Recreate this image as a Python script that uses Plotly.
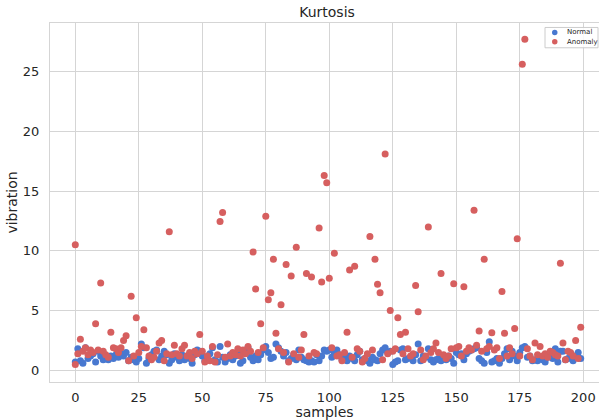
import plotly.graph_objects as go

normal = [
    0.7, 1.8, 0.8, 0.6, 1.9, 1.0, 1.2, 1.4, 0.7, 1.6,
    1.2, 0.9, 1.1, 0.9, 1.2, 1.0, 1.3, 1.1, 1.4, 1.2,
    1.5, 0.8, 1.1, 0.9, 0.7, 1.0, 2.2, 1.9, 0.6, 1.0,
    1.3, 1.6, 1.7, 0.9, 1.2, 1.6, 1.3, 0.6, 0.9, 1.4,
    1.1, 0.8, 1.3, 0.9, 1.2, 1.0, 0.6, 1.3, 1.7, 1.6,
    1.2, 0.8, 1.0, 1.4, 1.9, 0.9, 0.7, 2.0, 1.1, 0.7,
    1.0, 1.3, 0.9, 1.2, 1.4, 0.6, 0.8, 1.5, 1.9, 1.1,
    0.8, 1.2, 0.9, 1.3, 1.7, 2.0, 1.5, 1.0, 1.1, 2.2,
    1.9, 1.6, 1.2, 1.5, 0.8, 1.0, 1.3, 0.9, 1.7, 1.1,
    0.9, 0.8, 0.7, 0.8, 0.7, 1.3, 0.8, 1.2, 1.7, 1.6,
    1.7, 1.1, 1.5, 1.7, 1.3, 0.9, 1.1, 0.8, 1.2, 1.0,
    0.8, 1.3, 1.6, 0.9, 1.0, 0.8, 0.6, 1.1, 0.9, 0.8,
    1.4, 1.7, 1.9, 1.5, 1.6, 0.5, 0.7, 0.8, 1.7, 1.8,
    0.9, 1.0, 1.1, 0.8, 1.3, 2.2, 0.8, 1.2, 1.1, 1.8,
    0.9, 0.7, 0.9, 1.0, 0.8, 1.1, 0.9, 1.2, 1.0, 0.6,
    1.5, 1.3, 1.4, 0.9, 1.4, 1.6, 1.7, 1.8, 1.9, 1.0,
    0.8, 0.6, 1.5, 2.4, 0.7, 0.8, 1.0, 0.6, 1.0, 1.4,
    1.8, 0.9, 1.6, 1.2, 0.8, 1.5, 1.9, 2.0, 1.1, 1.2,
    0.8, 0.9, 0.8, 1.0, 0.9, 0.7, 1.1, 1.4, 1.0, 1.8,
    0.7, 1.6, 1.6, 0.9, 1.0, 1.4, 0.8, 1.2, 1.5, 1.0,
]

anomaly = [
    10.5, 1.4, 2.6, 1.6, 1.9, 1.3, 1.7, 1.5, 3.9, 1.7,
    7.3, 1.6, 1.3, 1.1, 3.2, 1.9, 1.8, 1.5, 1.9, 2.5,
    2.9, 0.8, 6.2, 1.2, 4.4, 1.5, 2.0, 3.4, 1.9, 1.2,
    0.9, 1.1, 1.6, 2.3, 2.5, 0.8, 1.4, 11.6, 1.3, 2.1,
    1.4, 1.2, 1.8, 2.1, 1.2, 1.5, 1.0, 1.6, 1.4, 3.0,
    1.6, 0.7, 1.2, 0.8, 2.0, 0.7, 1.3, 12.45, 13.2, 1.1,
    2.2, 1.2, 1.5, 1.3, 1.8, 1.2, 1.7, 1.4, 2.0, 1.6,
    9.9, 6.8, 1.5, 3.9, 1.9, 12.9, 5.9, 6.5, 9.3, 3.1,
    1.8, 5.5, 1.5, 8.85, 0.7, 7.9, 1.4, 10.3, 1.1, 1.7,
    3.0, 8.1, 1.2, 7.8, 1.5, 1.4, 11.9, 7.4, 16.3, 15.7,
    7.7, 1.9, 9.8, 1.2, 1.3, 0.8, 1.5, 3.2, 8.4, 1.1,
    8.7, 1.8, 1.6, 0.7, 1.0, 1.4, 11.2, 1.7, 9.3, 7.2,
    6.5, 0.9, 18.1, 1.4, 5.0, 1.6, 1.8, 4.4, 3.0, 1.4,
    3.2, 1.8, 1.2, 1.4, 7.1, 4.9, 1.7, 0.9, 1.2, 12.0,
    1.5, 1.8, 2.3, 1.5, 8.1, 1.3, 1.0, 1.2, 1.8, 7.25,
    1.9, 2.0, 1.2, 7.0, 1.6, 1.9, 1.7, 13.4, 2.1, 3.3,
    1.6, 9.3, 1.8, 2.0, 3.15, 1.7, 1.9, 1.0, 6.6, 3.1,
    1.2, 1.9, 1.4, 3.5, 11.0, 1.2, 25.6, 27.7, 1.8, 1.2,
    0.9, 2.3, 1.3, 2.0, 1.2, 1.4, 1.1, 1.6, 1.5, 1.3,
    1.2, 8.96, 2.3, 0.9, 1.6, 1.5, 1.2, 2.5, 1.0, 3.6,
]

anomaly_extra_samples = [0]
anomaly_extra_values = [0.5]

samples = list(range(len(normal)))
x_ticks = [0, 25, 50, 75, 100, 125, 150, 175, 200]
y_ticks = [0, 5, 10, 15, 20, 25]
legend_labels = ["Normal", "Anomaly"]

BLUE = "#4878d0"
RED = "#d65f5f"
GRID = "#d5d5d5"
TEXT = "#262626"
FONT = "DejaVu Sans"

W, H = 599, 420
L, R, T, B = 50, 0, 23, 35
PW, PH = W - L - R, H - T - B


def px_x(px):
    return (px - L) / PW


def px_y(py):
    return (H - B - py) / PH


fig = go.Figure()
fig.add_trace(go.Scatter(
    x=samples, y=normal, mode="markers", name=legend_labels[0],
    marker=dict(color=BLUE, size=7, line=dict(width=0)), showlegend=False,
))
fig.add_trace(go.Scatter(
    x=samples + anomaly_extra_samples, y=anomaly + anomaly_extra_values,
    mode="markers", name=legend_labels[1],
    marker=dict(color=RED, size=7, line=dict(width=0)), showlegend=False,
))

# compact legend box (top-right, like the reference)
shapes = [dict(type="rect", xref="paper", yref="paper",
               x0=px_x(545), x1=px_x(598), y0=px_y(48), y1=px_y(27.5),
               line=dict(color="#cccccc", width=1), fillcolor="rgba(255,255,255,0.85)",
               layer="above")]
annotations = []
for i, (lab, col) in enumerate(zip(legend_labels, [BLUE, RED])):
    cy = 32.5 + i * 9.5
    shapes.append(dict(type="circle", xref="paper", yref="paper",
                       x0=px_x(552), x1=px_x(557.5), y0=px_y(cy + 2.75), y1=px_y(cy - 2.75),
                       line=dict(width=0), fillcolor=col, layer="above"))
    annotations.append(dict(text=lab, xref="paper", yref="paper", x=px_x(565), y=px_y(cy),
                            xanchor="left", yanchor="middle", showarrow=False,
                            font=dict(size=7, color=TEXT, family=FONT)))

fig.update_layout(
    width=W, height=H,
    margin=dict(l=L, r=R, t=T, b=B),
    paper_bgcolor="white", plot_bgcolor="white",
    font=dict(family=FONT, color=TEXT, size=13),
    title=dict(text="Kurtosis", x=327/599, xref="container", xanchor="center",
               y=1 - 12/420, yref="container", yanchor="middle",
               font=dict(size=14, color=TEXT)),
    showlegend=False,
    shapes=shapes,
    annotations=annotations,
)
fig.update_xaxes(
    range=[-9.96, 206.2], tickvals=x_ticks, ticktext=[str(v) for v in x_ticks],
    showgrid=True, gridcolor=GRID, gridwidth=1, zeroline=False,
    showline=True, linecolor=GRID, linewidth=1, mirror=True,
    ticks="outside", ticklen=3, tickcolor="rgba(0,0,0,0)",
    title=dict(text="samples", font=dict(size=14, color=TEXT), standoff=6),
    tickfont=dict(size=13, color=TEXT),
)
fig.update_yaxes(
    range=[-0.97, 29.05], tickvals=y_ticks, ticktext=[str(v) for v in y_ticks],
    showgrid=True, gridcolor=GRID, gridwidth=1, zeroline=False,
    showline=True, linecolor=GRID, linewidth=1, mirror=False,
    ticks="outside", ticklen=7, tickcolor="rgba(0,0,0,0)",
    title=dict(text="vibration", font=dict(size=14, color=TEXT), standoff=1),
    tickfont=dict(size=13, color=TEXT),
)

fig.write_html("out.html")
